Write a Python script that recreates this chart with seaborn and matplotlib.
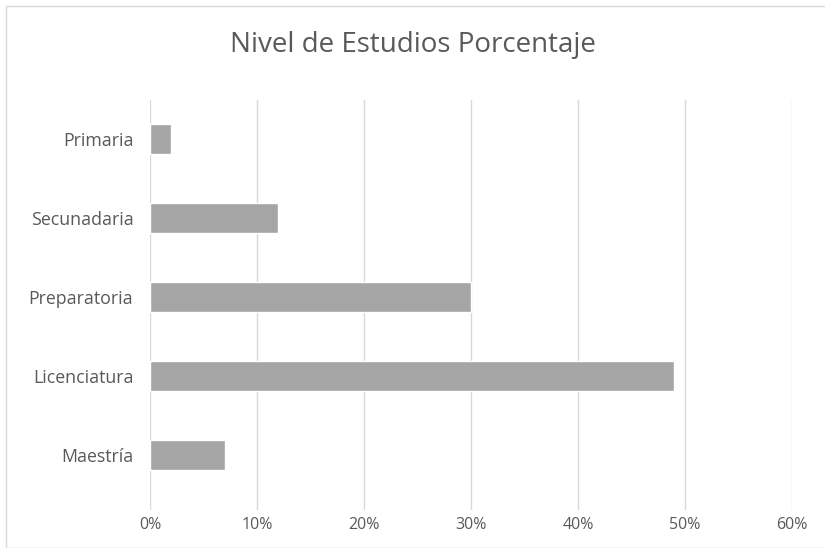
import matplotlib
matplotlib.use("Agg")
import matplotlib.pyplot as plt
import seaborn as sns
import pandas as pd
from matplotlib.ticker import FuncFormatter, MultipleLocator
from matplotlib.patches import Rectangle

categories = ["Primaria", "Secunadaria", "Preparatoria", "Licenciatura", "Maestría"]
values = [2, 12, 30, 49, 7]
title = "Nivel de Estudios Porcentaje"

df = pd.DataFrame({"cat": categories, "val": values})

sns.set_theme(style="white")
plt.rcParams["font.family"] = ["Open Sans", "DejaVu Sans"]

fig = plt.figure(figsize=(8.25, 5.48), dpi=100)
ax = fig.add_axes([150/825, 1-510/548, (792-150)/825, (510-100)/548])

sns.barplot(data=df, x="val", y="cat", orient="h", color="#a5a5a5",
            saturation=1, width=0.38, ax=ax, zorder=3)

ax.set_xlim(0, 60)
ax.set_ylim(4.7, -0.5)
ax.xaxis.set_major_locator(MultipleLocator(10))
ax.xaxis.set_major_formatter(FuncFormatter(lambda v, p: f"{int(v)}%"))
ax.grid(axis="x", color="#d9d9d9", linewidth=1, zorder=0)
ax.set_axisbelow(True)
for s in ax.spines.values():
    s.set_visible(False)
ax.set_xlabel("")
ax.set_ylabel("")
ax.tick_params(axis="both", length=0, colors="#595959")
ax.tick_params(axis="x", pad=5, labelsize=11.5)
ax.tick_params(axis="y", pad=12, labelsize=12.8)

fig.text(0.5, 1-45/548, title, ha="center", va="center", fontsize=20, color="#595959")

fig.patches.append(Rectangle((6/825, 0.0), 1.0, 1-6/548, transform=fig.transFigure,
                             fill=False, edgecolor="#d9d9d9", linewidth=1))

fig.savefig("out.png", dpi=100, facecolor="white")
